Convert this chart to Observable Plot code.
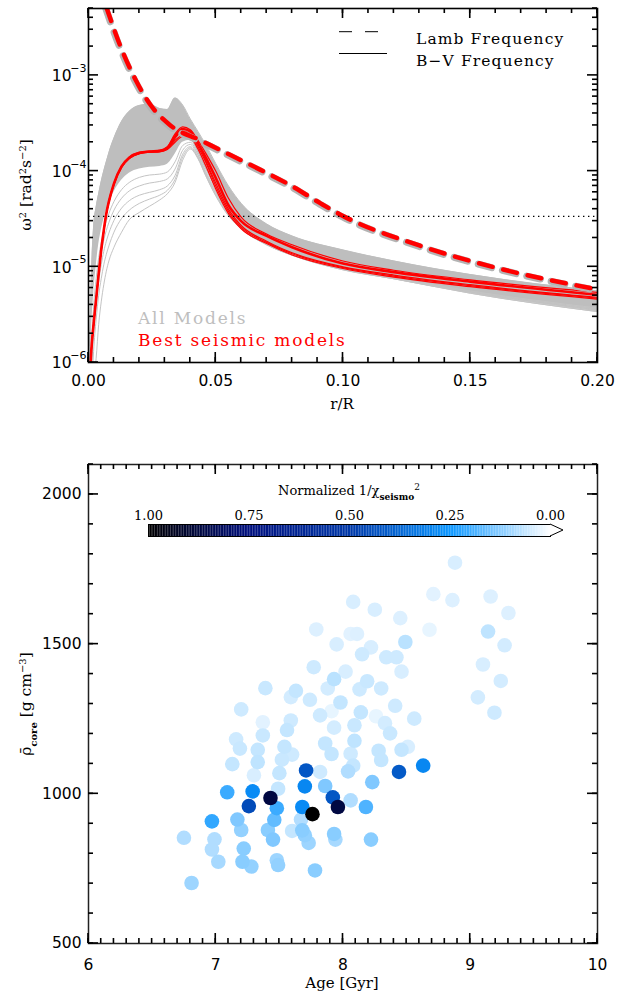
<!DOCTYPE html>
<html>
<head>
<meta charset="utf-8">
<script src="https://cdn.jsdelivr.net/npm/d3@7"></script>
<script src="https://cdn.jsdelivr.net/npm/@observablehq/plot@0.6"></script>
<style>
  body { margin: 0; background: #fff; }
  #wrap { position: relative; width: 629px; height: 994px; overflow: hidden; }
  #wrap svg { display: block; }
  .overlay { position: absolute; left: 0; }
</style>
</head>
<body>
<div id="wrap"></div>
<script>
// ---------- Top panel: propagation diagram ----------
// Fractional radius grid shared by every profile
const radius = [0.0005, 0.001, 0.002, 0.003, 0.004, 0.005, 0.006, 0.007, 0.008, 0.010,
  0.013, 0.016, 0.020, 0.024, 0.028, 0.031, 0.034, 0.037, 0.040, 0.043,
  0.046, 0.050, 0.055, 0.060, 0.070, 0.080, 0.100, 0.120, 0.150, 0.200];

// Brunt-Vaisala profiles of the whole grid: upper edge and lower edge of the dense bundle
const allUpper = [1.5e-6, 6e-6, 2.6e-5, 4.2e-5, 5.8e-5, 7.8e-5, 1.0e-4, 1.25e-4, 1.55e-4, 2.2e-4,
  3.3e-4, 4.2e-4, 4.85e-4, 5.0e-4, 4.5e-4, 4.4e-4, 5.8e-4, 4.9e-4, 3.5e-4, 2.6e-4,
  1.9e-4, 1.2e-4, 7.0e-5, 4.6e-5, 2.8e-5, 2.1e-5, 1.5e-5, 1.15e-5, 8.3e-6, 5.6e-6];
const allDense = [5e-7, 1.5e-6, 5e-6, 1.0e-5, 1.7e-5, 2.4e-5, 3.1e-5, 3.8e-5, 4.5e-5, 6.0e-5,
  8.0e-5, 9.5e-5, 1.05e-4, 1.1e-4, 1.12e-4, 1.18e-4, 1.5e-4, 2.0e-4, 2.1e-4, 1.55e-4,
  1.05e-4, 6.5e-5, 3.8e-5, 2.7e-5, 1.75e-5, 1.33e-5, 9.3e-6, 7.5e-6, 5.3e-6, 3.4e-6];
// Individual low-N models below the dense bundle
const modelLow1 = [3e-7, 1.1e-6, 3.8e-6, 7.5e-6, 1.25e-5, 1.8e-5, 2.4e-5, 3.0e-5, 3.6e-5, 4.8e-5,
  6.4e-5, 7.6e-5, 8.6e-5, 9.1e-5, 9.3e-5, 9.8e-5, 1.25e-4, 1.85e-4, 2.0e-4, 1.5e-4,
  1.0e-4, 6.2e-5, 3.7e-5, 2.65e-5, 1.75e-5, 1.35e-5, 9.6e-6, 7.7e-6, 5.6e-6, 3.7e-6];
const modelLow2 = [2e-7, 8e-7, 2.8e-6, 5.5e-6, 9.5e-6, 1.4e-5, 1.9e-5, 2.4e-5, 2.9e-5, 3.9e-5,
  5.2e-5, 6.2e-5, 7.0e-5, 7.5e-5, 7.8e-5, 8.3e-5, 1.05e-4, 1.65e-4, 1.9e-4, 1.45e-4,
  9.6e-5, 6.0e-5, 3.6e-5, 2.6e-5, 1.72e-5, 1.33e-5, 9.5e-6, 7.6e-6, 5.5e-6, 3.6e-6];
const modelLow3 = [1.5e-7, 5e-7, 2e-6, 4e-6, 7e-6, 1.05e-5, 1.45e-5, 1.85e-5, 2.25e-5, 3.05e-5,
  4.1e-5, 4.9e-5, 5.6e-5, 6.0e-5, 6.4e-5, 7.0e-5, 9.0e-5, 1.5e-4, 1.8e-4, 1.4e-4,
  9.3e-5, 5.8e-5, 3.5e-5, 2.55e-5, 1.7e-5, 1.32e-5, 9.4e-6, 7.5e-6, 5.4e-6, 3.5e-6];
const modelLow4 = [1.2e-7, 3.5e-7, 1.3e-6, 2.8e-6, 5e-6, 7.5e-6, 1.05e-5, 1.35e-5, 1.65e-5, 2.3e-5,
  3.2e-5, 3.9e-5, 4.6e-5, 5.1e-5, 5.6e-5, 6.3e-5, 8.2e-5, 1.4e-4, 1.75e-4, 1.37e-4,
  9.1e-5, 5.6e-5, 3.45e-5, 2.5e-5, 1.7e-5, 1.32e-5, 9.3e-6, 7.5e-6, 5.3e-6, 3.4e-6];
const modelLowest = [1e-7, 2e-7, 6e-7, 1.1e-6, 2.5e-6, 4.3e-6, 6.5e-6, 9e-6, 1.15e-5, 1.6e-5,
  2.3e-5, 3.1e-5, 3.7e-5, 4.3e-5, 5.0e-5, 5.8e-5, 7.6e-5, 1.3e-4, 1.7e-4, 1.35e-4,
  9.0e-5, 5.5e-5, 3.4e-5, 2.5e-5, 1.7e-5, 1.33e-5, 9.3e-6, 7.5e-6, 5.3e-6, 3.4e-6];

// Brunt-Vaisala profiles of the best seismic models
const bestA = [6e-7, 1.2e-6, 2.5e-6, 4.6e-6, 8.5e-6, 1.5e-5, 2.4e-5, 3.6e-5, 4.8e-5, 7.4e-5,
  1.12e-4, 1.38e-4, 1.55e-4, 1.6e-4, 1.63e-4, 1.75e-4, 2.3e-4, 2.75e-4, 2.6e-4, 1.95e-4,
  1.4e-4, 8.5e-5, 4.4e-5, 3.0e-5, 2.1e-5, 1.6e-5, 1.08e-5, 8.8e-6, 7.0e-6, 5.1e-6];
const bestB = [6e-7, 1.2e-6, 2.5e-6, 4.6e-6, 8.6e-6, 1.5e-5, 2.4e-5, 3.6e-5, 4.9e-5, 7.5e-5,
  1.13e-4, 1.4e-4, 1.57e-4, 1.62e-4, 1.65e-4, 1.8e-4, 2.45e-4, 2.9e-4, 2.7e-4, 2.1e-4,
  1.55e-4, 1.0e-4, 5.2e-5, 3.3e-5, 2.2e-5, 1.7e-5, 1.15e-5, 9.2e-6, 7.3e-6, 5.4e-6];
const bestC = [6e-7, 1.2e-6, 2.5e-6, 4.5e-6, 8.4e-6, 1.48e-5, 2.35e-5, 3.55e-5, 4.75e-5, 7.3e-5,
  1.1e-4, 1.36e-4, 1.53e-4, 1.58e-4, 1.6e-4, 1.7e-4, 2.1e-4, 2.4e-4, 2.5e-4, 2.0e-4,
  1.3e-4, 7.5e-5, 4.0e-5, 2.7e-5, 1.85e-5, 1.4e-5, 1.0e-5, 8.2e-6, 6.5e-6, 4.8e-6];
const bestD = [6e-7, 1.2e-6, 2.5e-6, 4.5e-6, 8.3e-6, 1.46e-5, 2.3e-5, 3.5e-5, 4.7e-5, 7.2e-5,
  1.09e-4, 1.35e-4, 1.52e-4, 1.57e-4, 1.59e-4, 1.68e-4, 2.0e-4, 2.3e-4, 2.25e-4, 1.7e-4,
  1.15e-4, 6.5e-5, 3.6e-5, 2.5e-5, 1.75e-5, 1.33e-5, 9.6e-6, 7.8e-6, 6.2e-6, 4.6e-6];
const bestE = [6e-7, 1.2e-6, 2.5e-6, 4.6e-6, 8.5e-6, 1.5e-5, 2.4e-5, 3.6e-5, 4.8e-5, 7.4e-5,
  1.11e-4, 1.37e-4, 1.54e-4, 1.59e-4, 1.62e-4, 1.72e-4, 2.2e-4, 2.6e-4, 2.4e-4, 1.8e-4,
  1.25e-4, 7.0e-5, 3.8e-5, 2.6e-5, 1.8e-5, 1.37e-5, 9.8e-6, 8.0e-6, 6.35e-6, 4.7e-6];

// Lamb frequency (l = 1) of the best models
const lambRadius = [0.0071, 0.0126, 0.0185, 0.0244, 0.0322, 0.044, 0.0558, 0.0676, 0.0794, 0.0912, 0.1, 0.13, 0.162, 0.2];
const lambFreq   = [5.1e-3, 2.0e-3, 9.0e-4, 4.9e-4, 3.0e-4, 2.1e-4, 1.47e-4, 1.03e-4, 7.1e-5, 4.6e-5, 3.4e-5, 1.67e-5, 9.5e-6, 5.8e-6];

// Squared observed frequency reference level
const nuMaxSquared = 3.37e-5;

const xTicksTop = [0, 0.05, 0.10, 0.15, 0.20];
const yDecades = [1e-6, 1e-5, 1e-4, 1e-3];

// ---------- Bottom panel: mean core density vs age ----------
const ages = [8.88, 8.08, 8.25, 8.45, 8.71, 8.86, 9.16, 9.30, 7.79, 8.06, 8.11, 7.95, 8.22, 8.15, 8.49, 8.68,
  9.14, 9.27, 8.34, 8.42, 9.10, 7.77, 8.02, 8.46, 9.24, 9.06, 9.19, 7.39, 7.63, 7.59, 7.74, 7.93,
  7.88, 8.19, 8.13, 8.30, 7.98, 7.20, 7.37, 7.59, 7.56, 7.82, 7.91, 8.14, 8.26, 8.41, 8.56, 8.33,
  8.09, 7.93, 8.37, 7.37, 7.16, 7.19, 7.33, 7.54, 7.60, 7.52, 7.86, 7.91, 8.09, 8.06, 8.28, 8.30,
  8.46, 8.51, 7.13, 7.33, 7.30, 7.50, 7.71, 7.82, 8.04, 8.08, 8.44, 8.63, 8.23, 7.09, 7.29, 7.43,
  7.49, 7.70, 7.86, 7.92, 8.06, 7.96, 8.18, 7.26, 7.48, 7.68, 7.76, 6.97, 7.17, 7.46, 7.67, 7.20,
  7.41, 7.60, 7.68, 7.70, 7.93, 7.94, 7.45, 7.73, 8.22, 6.75, 6.99, 6.97, 7.22, 7.02, 7.21, 7.28,
  7.48, 7.49, 7.78, 6.81];
const coreDensity = [1772, 1641, 1615, 1587, 1667, 1647, 1659, 1604, 1549, 1534, 1534, 1499, 1489, 1466, 1507, 1548,
  1542, 1496, 1456, 1456, 1432, 1423, 1408, 1408, 1377, 1322, 1271, 1353, 1344, 1323, 1314, 1383,
  1352, 1376, 1349, 1352, 1305, 1282, 1239, 1245, 1213, 1262, 1276, 1272, 1259, 1294, 1251, 1236,
  1229, 1221, 1202, 1195, 1182, 1151, 1147, 1157, 1131, 1114, 1168, 1133, 1177, 1134, 1144, 1113,
  1147, 1157, 1099, 1106, 1062, 1069, 1078, 1073, 1075, 1094, 1073, 1094, 1039, 1005, 1008, 986,
  1017, 1025, 1026, 988, 978, 956, 956, 959, 952, 956, 932, 908, 914, 913, 914, 879,
  879, 876, 878, 862, 866, 847, 847, 836, 847, 853, 848, 814, 817, 773, 773, 757,
  778, 762, 744, 702];
const invChi2 = [0.04, 0.04, 0.04, 0.035, 0.03, 0.035, 0.035, 0.035, 0.035, 0.03, 0.035, 0.04, 0.04, 0.05, 0.07, 0.025,
  0.065, 0.045, 0.05, 0.05, 0.04, 0.05, 0.04, 0.04, 0.045, 0.045, 0.05, 0.055, 0.06, 0.045, 0.05, 0.07,
  0.045, 0.055, 0.05, 0.05, 0.06, 0.05, 0.03, 0.05, 0.06, 0.05, 0.025, 0.06, 0.025, 0.05, 0.05, 0.045,
  0.055, 0.045, 0.055, 0.055, 0.05, 0.055, 0.06, 0.06, 0.05, 0.055, 0.06, 0.06, 0.065, 0.05, 0.06, 0.06,
  0.06, 0.04, 0.06, 0.065, 0.04, 0.06, 0.42, 0.05, 0.08, 0.06, 0.41, 0.29, 0.13, 0.20, 0.28, 0.87,
  0.06, 0.29, 0.13, 0.42, 0.08, 0.87, 0.18, 0.45, 0.20, 0.28, 1.00, 0.21, 0.13, 0.16, 0.08, 0.11,
  0.12, 0.06, 0.12, 0.11, 0.12, 0.09, 0.13, 0.10, 0.12, 0.08, 0.08, 0.08, 0.12, 0.09, 0.12, 0.11,
  0.10, 0.11, 0.12, 0.10];

const colorStops = [0, 0.25, 0.5, 0.75, 1];
const colorRamp = ["#ffffff", "#0a96ff", "#0038a8", "#00107e", "#000000"];
const colorbarTicks = [1, 0.75, 0.5, 0.25, 0];
const ageTicks = [6, 7, 8, 9, 10];
const densityTicks = [500, 1000, 1500, 2000];

// ---------- helpers ----------
const sans = "'DejaVu Sans', sans-serif";
const serif = "'DejaVu Serif', serif";
const profile = vals => radius.map((r, i) => ({r, w: vals[i]}));
const minorLog = d3.range(-6, -2).flatMap(e => d3.range(2, 10).map(m => m * 10 ** e)).filter(v => v <= 5e-3);

function labelAxes({xMajor, yMajor, xFormat, yFormat, xPad, yPad}) {
  const marks = [Plot.axisX({anchor: "bottom", ticks: xMajor, tickSize: 0, tickPadding: xPad, tickFormat: xFormat, label: null, fontSize: 15.5, fontFamily: sans})];
  if (yFormat) marks.push(Plot.axisY({anchor: "left", ticks: yMajor, tickSize: 0, tickPadding: yPad, tickFormat: yFormat, label: null, fontSize: 15.5, fontFamily: sans}));
  return marks;
}

// Tick marks pointing from all four frame edges into the plot, placed with the plot's own scales
function inwardTicks(svg, {xMajor, xMinor, yMajor, yMinor, major = 10, minor = 5}) {
  const xs = svg.scale("x"), ys = svg.scale("y");
  const [left, right] = xs.range;
  const [bottom, top] = ys.range;
  const g = d3.select(svg).append("g").attr("stroke", "#000").attr("stroke-width", 1.6).attr("fill", "none");
  const seg = (x1, y1, x2, y2) => g.append("line").attr("x1", x1).attr("y1", y1).attr("x2", x2).attr("y2", y2);
  for (const [values, len] of [[xMajor, major], [xMinor, minor]]) {
    for (const v of values) {
      const x = xs.apply(v);
      seg(x, bottom, x, bottom - len);
      seg(x, top, x, top + len);
    }
  }
  for (const [values, len] of [[yMajor, major], [yMinor, minor]]) {
    for (const v of values) {
      const y = ys.apply(v);
      seg(left, y, left + len, y);
      seg(right, y, right - len, y);
    }
  }
}

function addText(svg, {x, y, rotate = 0, anchor = "start", size = 15, family = serif, fill = "#000", spacing = 0, parts}) {
  const t = d3.select(svg).append("text")
    .attr("transform", `translate(${x},${y}) rotate(${rotate})`)
    .attr("text-anchor", anchor).attr("font-family", family).attr("font-size", size)
    .attr("fill", fill).attr("letter-spacing", spacing);
  for (const p of parts) {
    const s = t.append("tspan").text(p.text);
    if (p.shift) s.attr("baseline-shift", p.shift);
    if (p.size) s.attr("font-size", p.size);
    if (p.weight) s.attr("font-weight", p.weight);
  }
  return t;
}

// ---------- top plot ----------
const grayBand = radius.map((r, i) => ({r, hi: allUpper[i], lo: allDense[i]}));
const lowModels = [modelLow1, modelLow2, modelLow3, modelLow4, modelLowest];
const bestThin = [bestB, bestC, bestD, bestE];
const lamb = lambRadius.map((r, i) => ({r, w: lambFreq[i]}));

const freqPlot = Plot.plot({
  width: 629, height: 440, marginLeft: 88, marginRight: 32, marginTop: 8, marginBottom: 78,
  style: {fontFamily: sans, fontSize: "15px", color: "#000", background: "#fff"},
  x: {domain: [0, 0.2], axis: null},
  y: {type: "log", domain: [1e-6, 5e-3], axis: null},
  marks: [
    Plot.areaY(grayBand, {x: "r", y1: "lo", y2: "hi", fill: "#bebebe", curve: "monotone-x", clip: true}),
    ...lowModels.map(m => Plot.line(profile(m), {x: "r", y: "w", stroke: "#c4c4c4", strokeWidth: 1, curve: "monotone-x", clip: true})),
    Plot.line(profile(allUpper), {x: "r", y: "w", stroke: "#bebebe", strokeWidth: 1, curve: "monotone-x", clip: true}),
    ...bestThin.map(m => Plot.line(profile(m), {x: "r", y: "w", stroke: "#ff0000", strokeWidth: 1.2, curve: "monotone-x", clip: true})),
    Plot.line(profile(bestA), {x: "r", y: "w", stroke: "#ff0000", strokeWidth: 2.6, curve: "monotone-x", clip: true}),
    Plot.line(lamb, {x: "r", y: "w", stroke: "#b4b4b4", strokeWidth: 7, strokeDasharray: "14,11", curve: "monotone-x", clip: true, dx: -0.8, dy: 0.8}),
    Plot.line(lamb, {x: "r", y: "w", stroke: "#ff0000", strokeWidth: 4.5, strokeDasharray: "14,11", curve: "monotone-x", clip: true}),
    Plot.ruleY([nuMaxSquared], {stroke: "#000", strokeWidth: 1.2, strokeDasharray: "1.4,3.6"}),
    ...labelAxes({xMajor: xTicksTop, yMajor: yDecades, xFormat: d3.format(".2f"), yFormat: null, xPad: 12, yPad: 0}),
    // decade labels written as 10 with a raised exponent
    Plot.text(yDecades, {y: d => d, frameAnchor: "left", text: () => "10", textAnchor: "end", dx: -17, dy: 1, fontSize: 15.5, fontFamily: sans}),
    Plot.text(yDecades, {y: d => d, frameAnchor: "left", text: d => "\u2212" + Math.round(-Math.log10(d)), textAnchor: "end", dx: -2, dy: -7, fontSize: 11, fontFamily: sans}),
    Plot.frame({stroke: "#000", strokeWidth: 1.6})
  ]
});
inwardTicks(freqPlot, {xMajor: xTicksTop, xMinor: d3.range(0, 0.2001, 0.01), yMajor: yDecades, yMinor: minorLog});

// ---------- bottom plot ----------
const models = ages.map((a, i) => ({age: a, rho: coreDensity[i], fit: invChi2[i]}));
const densityPlot = Plot.plot({
  width: 629, height: 554, marginLeft: 88, marginRight: 32, marginTop: 24, marginBottom: 51,
  style: {fontFamily: sans, fontSize: "15px", color: "#000", background: "#fff"},
  x: {domain: [6, 10], axis: null},
  y: {domain: [500, 2100], axis: null},
  color: {type: "linear", domain: colorStops, range: colorRamp, interpolate: "rgb"},
  marks: [
    Plot.dot(models, {x: "age", y: "rho", r: 7.3, fill: "fit", sort: "fit"}),
    ...labelAxes({xMajor: ageTicks, yMajor: densityTicks, xFormat: d3.format("d"), yFormat: d3.format("d"), xPad: 15, yPad: 7}),
    Plot.frame({stroke: "#222", strokeWidth: 1.5})
  ]
});
inwardTicks(densityPlot, {xMajor: ageTicks, xMinor: d3.range(6, 10.001, 0.1), yMajor: densityTicks, yMinor: d3.range(500, 2101, 100)});

// ---------- colour bar ----------
const rampSteps = d3.range(0, 1, 0.004);
const colorbar = Plot.plot({
  width: 629, height: 40,
  marginLeft: 148, marginRight: 79, marginTop: 24, marginBottom: 4,
  style: {fontFamily: serif, fontSize: "13px", color: "#000", background: "none", overflow: "visible"},
  x: {domain: [1, 0], axis: null},
  color: {type: "linear", domain: colorStops, range: colorRamp, interpolate: "rgb"},
  marks: [
    Plot.rectX(rampSteps, {x1: d => d, x2: d => d + 0.004, fill: d => d + 0.002}),
    Plot.axisX({anchor: "top", ticks: colorbarTicks, tickSize: 0, tickPadding: 5, tickFormat: d3.format(".2f"), label: null, fontFamily: serif, fontSize: 13}),
    Plot.frame({stroke: "#000", strokeWidth: 1})
  ]
});

const wrap = document.getElementById("wrap");
wrap.appendChild(freqPlot);
wrap.appendChild(densityPlot);
colorbar.classList.add("overlay");
colorbar.style.top = "500px";
wrap.appendChild(colorbar);

// open-ended arrow at the low end of the colour bar
{
  const x0 = colorbar.scale("x").apply(0);
  d3.select(colorbar).append("path")
    .attr("d", `M${x0},24L${x0 + 13},30L${x0},36`)
    .attr("fill", "#fff").attr("stroke", "#000").attr("stroke-width", 1);
}
addText(colorbar, {x: 349, y: -5, anchor: "middle", size: 13, parts: [
  {text: "Normalized 1/\u03c7"}, {text: "seismo", shift: "sub", size: 9, weight: "bold"}, {text: "2", shift: "super", size: 9}
]});

// top panel legend and labels
{
  const s = d3.select(freqPlot);
  s.append("line").attr("x1", 339).attr("x2", 378).attr("y1", 31.7).attr("y2", 31.7)
    .attr("stroke", "#000").attr("stroke-width", 1).attr("stroke-dasharray", "13,13");
  s.append("line").attr("x1", 339).attr("x2", 387).attr("y1", 53.5).attr("y2", 53.5)
    .attr("stroke", "#000").attr("stroke-width", 1);
  addText(freqPlot, {x: 416, y: 43.5, size: 15.5, spacing: 1.1, parts: [{text: "Lamb Frequency"}]});
  addText(freqPlot, {x: 416, y: 65.5, size: 15.5, spacing: 1.1, parts: [{text: "B\u2212V Frequency"}]});
  addText(freqPlot, {x: 138, y: 324, size: 17, spacing: 1.8, fill: "#bebebe", parts: [{text: "All Models"}]});
  addText(freqPlot, {x: 138, y: 346, size: 17, spacing: 1.8, fill: "#ff0000", parts: [{text: "Best seismic models"}]});
  addText(freqPlot, {x: 342, y: 409, anchor: "middle", size: 15, parts: [{text: "r/R"}]});
  addText(freqPlot, {x: 31, y: 185, rotate: -90, anchor: "middle", size: 15.5, parts: [
    {text: "\u03c9"}, {text: "2", shift: "super", size: 10}, {text: " [rad"}, {text: "2", shift: "super", size: 10},
    {text: "s"}, {text: "\u22122", shift: "super", size: 10}, {text: "]"}
  ]});
}
// bottom panel axis titles
addText(densityPlot, {x: 342, y: 548, anchor: "middle", size: 15, parts: [{text: "Age [Gyr]"}]});
addText(densityPlot, {x: 31, y: 264, rotate: -90, anchor: "middle", size: 15.5, parts: [
  {text: "\u03c1\u0304"}, {text: "core", shift: "sub", size: 10, weight: "bold"}, {text: " [g cm"}, {text: "\u22123", shift: "super", size: 10}, {text: "]"}
]});
</script>
</body>
</html>
